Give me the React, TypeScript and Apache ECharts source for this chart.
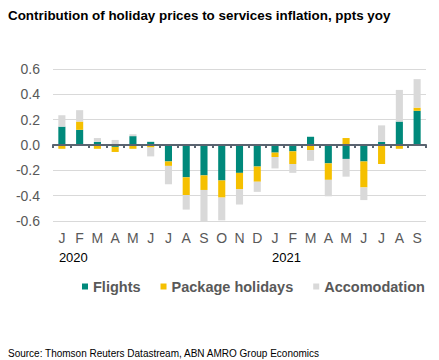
import React, { useEffect, useRef } from "react";
import * as echarts from "echarts";

const months = ["J","F","M","A","M","J","J","A","S","O","N","D","J","F","M","A","M","J","J","A","S"];
const years = ["2020","","","","","","","","","","","","2021","","","","","","","",""];
const flights = [0.145,0.12,0.025,-0.015,0.07,0.025,-0.13,-0.255,-0.24,-0.28,-0.22,-0.17,-0.06,-0.05,0.065,-0.145,-0.11,-0.13,0.025,0.185,0.27];
const packageHolidays = [-0.03,0.065,-0.03,-0.04,-0.03,-0.02,-0.035,-0.14,-0.115,-0.135,-0.13,-0.12,-0.035,-0.1,-0.04,-0.13,0.055,-0.205,-0.15,-0.03,0.025];
const accomodation = [0.09,0.09,0.03,0.04,0.015,-0.07,-0.145,-0.115,-0.245,-0.18,-0.12,-0.08,-0.09,-0.07,-0.085,-0.13,-0.14,-0.1,0.13,0.25,0.225];
const yTicks = { min: -0.6, max: 0.6, interval: 0.2 };

export default function App() {
  const ref = useRef<HTMLDivElement>(null);
  useEffect(() => {
    const chart = echarts.init(ref.current!, null, { renderer: "svg" });
    const font = "Arial, 'Liberation Sans', sans-serif";
    chart.setOption({
      animation: false,
      textStyle: { fontFamily: font },
      title: [
        {
          text: "Contribution of holiday prices to services inflation, ppts yoy",
          left: 3,
          top: 4,
          textStyle: { fontSize: 13.4, fontWeight: "bold", color: "#000", fontFamily: font },
        },
        {
          text: "Source: Thomson Reuters Datastream, ABN AMRO Group Economics",
          left: 3,
          top: 343,
          textStyle: { fontSize: 10, fontWeight: "normal", color: "#000", fontFamily: font },
        },
      ],
      legend: {
        left: 77,
        top: 274,
        itemWidth: 6,
        itemHeight: 6,
        itemGap: 20,
        icon: "rect",
        textStyle: { fontSize: 14.5, fontWeight: "bold", color: "#595959", fontFamily: font },
        data: ["Flights", "Package holidays", "Accomodation"],
      },
      grid: { left: 53, right: 13, top: 69, bottom: 139, containLabel: false },
      xAxis: [
        {
          type: "category",
          data: months,
          position: "bottom",
          axisLine: { onZero: true, lineStyle: { color: "#5a6470", width: 2 } },
          axisTick: { show: true, length: 3, lineStyle: { color: "#5a6470", width: 2 } },
          axisLabel: { show: false },
          z: 10,
        },
        {
          type: "category",
          data: months,
          position: "bottom",
          axisLine: { show: false, onZero: false },
          axisTick: { show: false },
          axisLabel: { interval: 0, fontSize: 14, color: "#595959", margin: 10, fontFamily: font },
        },
        {
          type: "category",
          data: years,
          position: "bottom",
          offset: 22,
          axisLine: { show: false, onZero: false },
          axisTick: { show: false },
          axisLabel: { interval: 0, fontSize: 13, color: "#000", margin: 8, align: "left", padding: [0, 0, 0, -3], fontFamily: font },
        },
      ],
      yAxis: {
        type: "value",
        min: yTicks.min,
        max: yTicks.max,
        interval: yTicks.interval,
        axisLine: { show: false },
        axisTick: { show: false },
        splitLine: { lineStyle: { color: "#d9d9d9", width: 1 } },
        axisLabel: { fontSize: 14, color: "#595959", margin: 13, formatter: (v: number) => v.toFixed(1), fontFamily: font },
      },
      series: [
        { name: "Flights", type: "bar", stack: "t", data: flights, barWidth: "40%", itemStyle: { color: "#00897b" } },
        { name: "Package holidays", type: "bar", stack: "t", data: packageHolidays, itemStyle: { color: "#f5c000" } },
        { name: "Accomodation", type: "bar", stack: "t", data: accomodation, itemStyle: { color: "#d9d9d9" } },
      ],
    });
    return () => chart.dispose();
  }, []);
  return <div ref={ref} style={{ width: 439, height: 360, position: "absolute", left: 0, top: 0 }} />;
}
